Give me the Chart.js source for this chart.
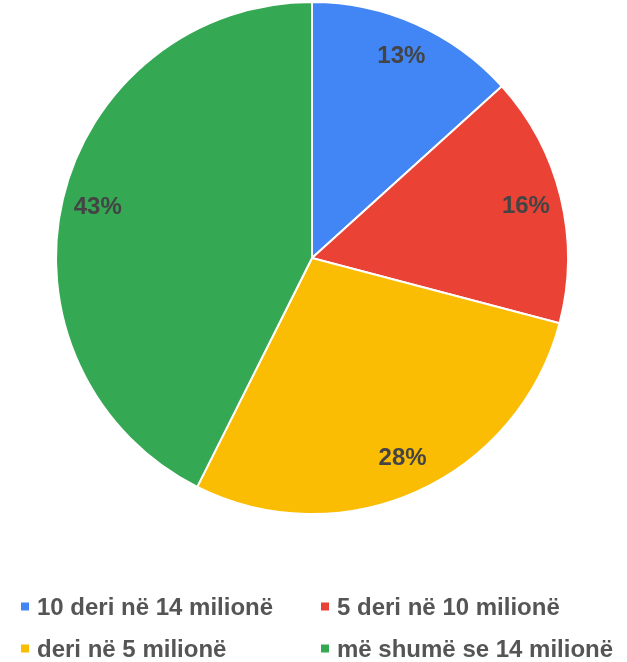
<!DOCTYPE html>
<html>
<head>
<meta charset="utf-8">
<script src="https://cdn.jsdelivr.net/npm/chart.js@4/dist/chart.umd.min.js"></script>
<style>
  html, body { margin: 0; padding: 0; background: #fff; }
  #wrap { width: 627px; height: 662px; }
</style>
</head>
<body>
<div id="wrap"><canvas id="myChart" width="627" height="662"></canvas></div>
<script>
// te dhenat e grafikut
const kategorite = ['10 deri në 14 milionë', '5 deri në 10 milionë', 'deri në 5 milionë', 'më shumë se 14 milionë'];
const vlerat = [13.3, 15.8, 28.3, 42.6];
const etiketat = ['13%', '16%', '28%', '43%'];
const ngjyrat = ['#4285F4', '#EA4335', '#FBBC04', '#34A853'];

const fonti = '"Liberation Sans", Arial, sans-serif';

// etiketat e perqindjeve brenda fetave
const etiketaPlugin = {
    id: 'etiketaPlugin',
    afterDatasetsDraw(chart) {
        const ctx = chart.ctx;
        const arcs = chart.getDatasetMeta(0).data;
        ctx.save();
        ctx.font = 'bold 24px ' + fonti;
        ctx.fillStyle = '#444444';
        ctx.textAlign = 'center';
        ctx.textBaseline = 'middle';
        arcs.forEach((arc, i) => {
            const mes = (arc.startAngle + arc.endAngle) / 2;
            const r = arc.outerRadius * 0.86;
            ctx.fillText(etiketat[i], arc.x + Math.cos(mes) * r, arc.y + Math.sin(mes) * r);
        });
        ctx.restore();
    }
};

// legjenda poshte, ne dy kolona
const legjendaPlugin = {
    id: 'legjendaPlugin',
    afterDraw(chart) {
        const ctx = chart.ctx;
        const kolonat = [21, 321];
        const rreshtat = [606.5, 648.5];
        ctx.save();
        ctx.font = 'bold 24px ' + fonti;
        ctx.textBaseline = 'alphabetic';
        ctx.textAlign = 'left';
        kategorite.forEach((emri, i) => {
            const x = kolonat[i % 2];
            const y = rreshtat[Math.floor(i / 2)];
            ctx.fillStyle = ngjyrat[i];
            ctx.fillRect(x, y - 4, 8, 8);
            ctx.fillStyle = '#555555';
            ctx.fillText(emri, x + 16, y + 8.5);
        });
        ctx.restore();
    }
};

new Chart(document.getElementById('myChart'), {
    type: 'pie',
    data: {
        labels: kategorite,
        datasets: [{
            data: vlerat,
            backgroundColor: ngjyrat,
            borderColor: '#ffffff',
            borderWidth: 2
        }]
    },
    options: {
        responsive: false,
        animation: false,
        layout: { padding: { top: 1, left: 0, right: 3, bottom: 147 } },
        plugins: {
            legend: { display: false },
            tooltip: { enabled: false }
        }
    },
    plugins: [etiketaPlugin, legjendaPlugin]
});
</script>
</body>
</html>
